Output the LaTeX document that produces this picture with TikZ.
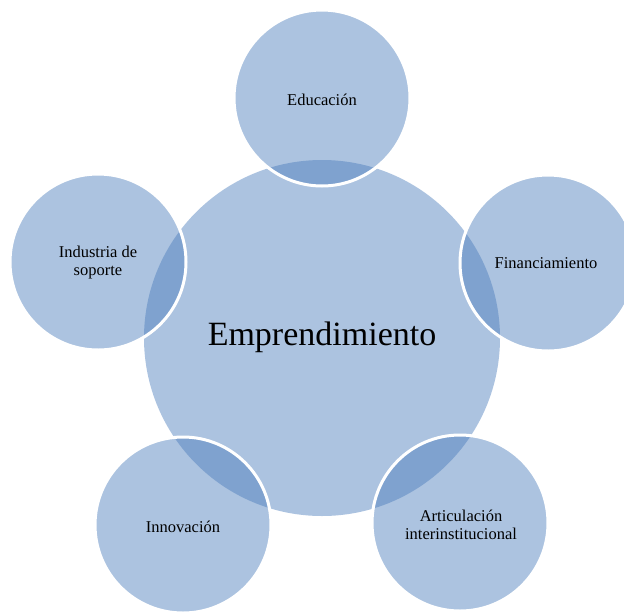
\documentclass[tikz,border=0pt]{standalone}
\usepackage{fontspec}
\setmainfont{Liberation Serif}
\definecolor{hub}{HTML}{ACC3E0}
\definecolor{sat}{HTML}{4A7CBB}
\tikzset{
  hubc/.style={circle, fill=hub, minimum size=356pt, inner sep=0pt},
  satc/.style={circle, fill=sat, fill opacity=0.46, draw=white, line width=3pt, minimum size=176pt, inner sep=0pt},
  smalltxt/.style={font=\fontsize{16.5}{18}\selectfont, align=center, text=black},
  bigtxt/.style={font=\fontsize{34}{40}\selectfont, text=black},
}
\begin{document}
\begin{tikzpicture}[x=1pt,y=-1pt]
\useasboundingbox (0,0) rectangle (624,611);
\node[hubc] (hub) at (322,338) {};
\node[satc] (edu) at (322,98) {};
\node[satc] (fin) at (548,263) {};
\node[satc] (art) at (460,523) {};
\node[satc] (inn) at (183,525) {};
\node[satc] (ind) at (98,262) {};
\node[bigtxt] (hubt) at (322,337) {Emprendimiento};
\node[smalltxt] (edut) at (322,100) {Educación};
\node[smalltxt] (fint) at (546,263) {Financiamiento};
\node[smalltxt] (artt) at (461,525) {Articulación\\interinstitucional};
\node[smalltxt] (innt) at (183,527) {Innovación};
\node[smalltxt] (indt) at (98,263) {Industria de\\soporte};
\end{tikzpicture}
\end{document}
